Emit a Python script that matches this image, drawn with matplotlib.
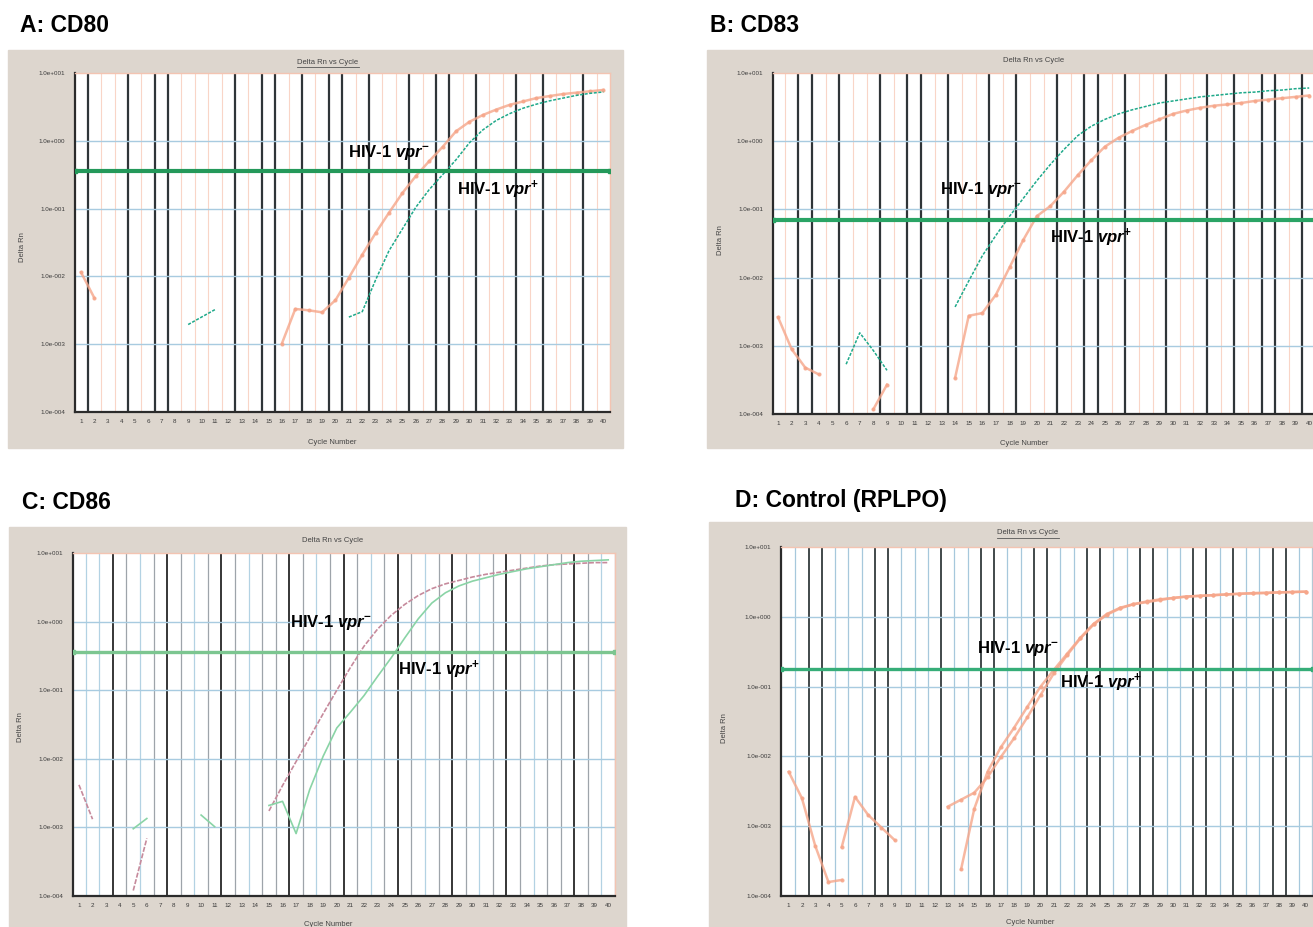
#
# Four qPCR amplification plots (Delta Rn vs Cycle), scanned-figure look
#
import matplotlib
matplotlib.use("Agg")
import matplotlib.pyplot as plt
from matplotlib.patches import Rectangle

plt.rcParams['font.family'] = ['Liberation Sans', 'DejaVu Sans']
plt.rcParams['mathtext.fontset'] = 'custom'
plt.rcParams['mathtext.rm'] = 'Liberation Sans:bold'
plt.rcParams['mathtext.it'] = 'Liberation Sans:bold:italic'

W, H = 1313, 927

cycle_ticks = list(range(1, 41))
cycle_labels = [str(c) for c in cycle_ticks]
ytick_vals = [1e-4, 1e-3, 1e-2, 1e-1, 1e0, 1e1]
ytick_labels = ['1.0e-004', '1.0e-003', '1.0e-002', '1.0e-001', '1.0e+000', '1.0e+001']

# ---- panel A: CD80 (values are log10 Delta Rn) ----
a_cyc_minus = list(range(16, 41))
a_log_minus = [-2.99, -2.48, -2.50, -2.53, -2.35, -2.02, -1.68, -1.36, -1.06, -0.77,
               -0.52, -0.30, -0.09, 0.14, 0.28, 0.38, 0.46, 0.53, 0.58, 0.63,
               0.66, 0.69, 0.71, 0.73, 0.75]
a_cyc_plus = list(range(21, 41))
a_log_plus = [-2.60, -2.52, -2.05, -1.62, -1.30, -0.98, -0.72, -0.50, -0.28, -0.03,
              0.16, 0.30, 0.40, 0.48, 0.54, 0.59, 0.63, 0.67, 0.70, 0.72]
a_frag_minus_cyc = [1, 2]
a_frag_minus_log = [-1.94, -2.32]
a_frag_plus_cyc = [9, 10, 11]
a_frag_plus_log = [-2.71, -2.60, -2.49]
a_threshold = 0.36
a_dark = [1.5, 4.5, 6.5, 7.5, 12.5, 14.5, 15.5, 17.5, 19.5, 20.5, 22.5, 25.5,
          27.5, 28.5, 30.5, 33.5, 35.5, 38.5]

# ---- panel B: CD83 ----
b_cyc_green = list(range(14, 41))
b_log_green = [-2.43, -2.05, -1.68, -1.38, -1.10, -0.84, -0.58, -0.34, -0.12, 0.08,
               0.22, 0.32, 0.40, 0.46, 0.51, 0.56, 0.59, 0.62, 0.65, 0.67,
               0.69, 0.71, 0.72, 0.74, 0.75, 0.77, 0.78]
b_cyc_orange = list(range(14, 41))
b_log_orange = [-3.47, -2.56, -2.52, -2.25, -1.85, -1.45, -1.10, -0.95, -0.74, -0.50,
                -0.28, -0.08, 0.05, 0.15, 0.24, 0.32, 0.40, 0.45, 0.49, 0.52,
                0.54, 0.56, 0.59, 0.61, 0.63, 0.65, 0.67]
b_frag1_cyc = [1, 2, 3, 4]
b_frag1_log = [-2.58, -3.05, -3.32, -3.42]
b_frag2_cyc = [6, 7, 8, 9]
b_frag2_log = [-3.27, -2.81, -3.07, -3.36]
b_frag3_cyc = [8, 9]
b_frag3_log = [-3.93, -3.57]
b_threshold = 0.069
b_dark = [2.5, 3.5, 5.5, 8.5, 10.5, 11.5, 13.5, 16.5, 18.5, 21.5, 23.5, 24.5,
          26.5, 29.5, 32.5, 34.5, 36.5, 37.5, 39.5]

# ---- panel C: CD86 ----
c_cyc_pink = list(range(15, 41))
c_log_pink = [-2.76, -2.39, -2.04, -1.69, -1.34, -1.00, -0.67, -0.36, -0.11, 0.09,
              0.25, 0.38, 0.48, 0.55, 0.60, 0.65, 0.69, 0.72, 0.75, 0.78,
              0.81, 0.83, 0.84, 0.85, 0.86, 0.86]
c_cyc_green = list(range(15, 41))
c_log_green = [-2.68, -2.62, -3.09, -2.45, -1.96, -1.55, -1.32, -1.08, -0.80, -0.53,
               -0.24, 0.04, 0.27, 0.42, 0.52, 0.59, 0.64, 0.69, 0.73, 0.77,
               0.80, 0.83, 0.86, 0.88, 0.89, 0.90]
c_frag1_cyc = [1, 2]
c_frag1_log = [-2.38, -2.88]
c_frag2_cyc = [5, 6]
c_frag2_log = [-3.02, -2.87]
c_frag3_cyc = [5, 6]
c_frag3_log = [-3.92, -3.16]
c_frag4_cyc = [10, 11]
c_frag4_log = [-2.82, -2.99]
c_threshold = 0.355
c_dark = [3.5, 7.5, 11.5, 16.5, 20.5, 24.5, 28.5, 32.5, 37.5]
c_blue = [1.5, 2.5, 5.5, 9.5, 13.5, 18.5, 22.5, 26.5, 30.5, 34.5, 39.5]

# ---- panel D: Control (RPLPO) ----
d_cyc_1 = list(range(13, 41))
d_log_1 = [-2.72, -2.62, -2.52, -2.30, -2.01, -1.74, -1.44, -1.12, -0.81, -0.55,
           -0.31, -0.11, 0.03, 0.12, 0.18, 0.21, 0.24, 0.27, 0.29, 0.30,
           0.31, 0.32, 0.33, 0.335, 0.34, 0.35, 0.355, 0.36]
d_cyc_2 = list(range(14, 41))
d_log_2 = [-3.62, -2.75, -2.22, -1.87, -1.59, -1.29, -1.00, -0.76, -0.53, -0.30,
           -0.10, 0.04, 0.13, 0.18, 0.22, 0.25, 0.27, 0.29, 0.30, 0.31,
           0.32, 0.33, 0.34, 0.345, 0.35, 0.355, 0.36]
d_frag1_cyc = [1, 2, 3, 4, 5]
d_frag1_log = [-2.22, -2.60, -3.28, -3.80, -3.77]
d_frag2_cyc = [5, 6, 7, 8, 9]
d_frag2_log = [-3.30, -2.58, -2.84, -3.02, -3.20]
d_threshold = 0.18
d_dark = [2.5, 3.5, 7.5, 8.5, 12.5, 15.5, 16.5, 19.5, 20.5, 23.5, 24.5, 27.5,
          28.5, 31.5, 32.5, 34.5, 37.5, 38.5]

ORANGE = dict(color='#f6a68a', lw=1.8, marker='o', ms=2.0, alpha=0.8)
GREEN = dict(color='#1fa98a', lw=1.1, ls=(0, (2, 1)))
PINK = dict(color='#c68a9c', lw=1.2, ls=(0, (3, 1)))
LGREEN = dict(color='#8ad4a6', lw=1.2)

GRAY_BG = '#ddd6ce'


def fig_rect(l, t, r, b):
    # pixel box (top-left origin) -> figure fraction
    return [l / W, 1 - b / H, (r - l) / W, (b - t) / H]


def pow10(vals):
    return [10 ** v for v in vals]


def draw_panel(fig, p):
    l, t, r, b = p['gray']
    fig.add_artist(Rectangle((l / W, 1 - b / H), (r - l) / W, (b - t) / H,
                             transform=fig.transFigure, color=GRAY_BG, zorder=0))
    fig.text(p['head'][0] / W, 1 - p['head'][1] / H, p['name'], fontsize=16.5,
             fontweight='bold', va='center', ha='left')

    ax = fig.add_axes(fig_rect(*p['plot']))
    ax.set_facecolor('white')
    ax.set_yscale('log')
    ax.set_xlim(*p['xlim'])
    ax.set_ylim(1e-4, 1e1)

    # cycle gridlines (the scan renders some dark, most faint)
    for k in range(1, 41):
        xg = k + 0.5
        if xg in p['dark']:
            ax.axvline(xg, color=p['dark_color'], lw=p['dark_lw'], zorder=1)
        elif xg in p.get('blue', []):
            ax.axvline(xg, color='#b3d2e3', lw=p['light_lw'], zorder=1)
        else:
            ax.axvline(xg, color=p['light_color'], lw=p['light_lw'], zorder=1)
    for yv in ytick_vals[1:-1]:
        ax.axhline(yv, color='#a8cbe0', lw=1.0, zorder=1)

    for cyc, logs, style in p['curves']:
        ax.plot(cyc, pow10(logs), zorder=3, **style)

    ax.plot(p['xlim'], [p['thr'], p['thr']], color=p['thr_color'], lw=p['thr_lw'],
            marker='s', ms=3, zorder=4)

    ax.set_xticks(cycle_ticks)
    ax.set_xticklabels(cycle_labels)
    ax.set_yticks(ytick_vals)
    ax.set_yticklabels(ytick_labels)
    ax.minorticks_off()
    ax.tick_params(axis='both', length=0, labelsize=4.5, colors='#3a3a3a')
    ax.tick_params(axis='x', pad=5)
    ax.tick_params(axis='y', pad=7)
    for side in ['left', 'bottom']:
        ax.spines[side].set_color('#2b2b2b')
        ax.spines[side].set_linewidth(1.6)
    for side in ['top', 'right']:
        ax.spines[side].set_color('#f3c4b2')
        ax.spines[side].set_linewidth(1.0)

    tx, ty = p['title_xy']
    fig.text(tx / W, 1 - ty / H, 'Delta Rn vs Cycle', fontsize=5.5, color='#444',
             ha='center', va='center')
    if p['underline']:
        fig.add_artist(plt.Line2D([(tx - 31) / W, (tx + 31) / W],
                                  [1 - (ty + 5) / H, 1 - (ty + 5) / H],
                                  transform=fig.transFigure, color='#555', lw=0.6))
    cx, cy = p['xlabel_xy']
    fig.text(cx / W, 1 - cy / H, 'Cycle Number', fontsize=5.5, color='#444',
             ha='center', va='center')
    yx, yy = p['ylabel_xy']
    fig.text(yx / W, 1 - yy / H, 'Delta Rn', fontsize=5.5, color='#444',
             ha='center', va='center', rotation=90)

    for (lx, ly), sign in zip(p['labels'], ['-', '+']):
        fig.text(lx / W, 1 - ly / H, r'HIV-1 $\mathit{vpr}^{\mathrm{' + sign + '}}$',
                 fontsize=12, fontweight='bold', ha='left', va='center', zorder=6)
    return ax


def main():
    fig = plt.figure(figsize=(W / 100, H / 100), dpi=100)

    panels = [
        dict(name='A: CD80', head=(20, 25), gray=(8, 50, 623, 448),
             plot=(75, 73, 610, 412), xlim=(0.55, 40.5), dark=a_dark,
             dark_color='#2f3538', dark_lw=1.6, light_color='#f9d5c7', light_lw=0.8,
             curves=[(a_cyc_minus, a_log_minus, ORANGE),
                     (a_frag_minus_cyc, a_frag_minus_log, ORANGE),
                     (a_cyc_plus, a_log_plus, GREEN),
                     (a_frag_plus_cyc, a_frag_plus_log, GREEN)],
             thr=a_threshold, thr_color='#24995a', thr_lw=3.0,
             title_xy=(328, 62), underline=True, xlabel_xy=(332, 442),
             ylabel_xy=(23, 247), labels=[(348, 153), (457, 190)]),
        dict(name='B: CD83', head=(710, 25), gray=(707, 50, 1320, 448),
             plot=(773, 73, 1316, 414), xlim=(0.63, 40.5), dark=b_dark,
             dark_color='#2f3538', dark_lw=1.6, light_color='#f9d5c7', light_lw=0.8,
             curves=[(b_cyc_orange, b_log_orange, ORANGE),
                     (b_frag1_cyc, b_frag1_log, ORANGE),
                     (b_frag3_cyc, b_frag3_log, ORANGE),
                     (b_cyc_green, b_log_green, GREEN),
                     (b_frag2_cyc, b_frag2_log, GREEN)],
             thr=b_threshold, thr_color='#2aa465', thr_lw=3.0,
             title_xy=(1034, 61), underline=False, xlabel_xy=(1024, 443),
             ylabel_xy=(720, 240), labels=[(940, 190), (1050, 238)]),
        dict(name='C: CD86', head=(22, 503), gray=(9, 527, 626, 935),
             plot=(73, 553, 615, 896), xlim=(0.56, 40.5), dark=c_dark, blue=c_blue,
             dark_color='#262626', dark_lw=1.3, light_color='#9ea4aa', light_lw=0.9,
             curves=[(c_cyc_pink, c_log_pink, PINK),
                     (c_frag1_cyc, c_frag1_log, PINK),
                     (c_frag3_cyc, c_frag3_log, PINK),
                     (c_cyc_green, c_log_green, LGREEN),
                     (c_frag2_cyc, c_frag2_log, LGREEN),
                     (c_frag4_cyc, c_frag4_log, LGREEN)],
             thr=c_threshold, thr_color='#7cc690', thr_lw=2.4,
             title_xy=(333, 540), underline=False, xlabel_xy=(328, 925),
             ylabel_xy=(20, 727), labels=[(290, 623), (398, 670)]),
        dict(name='D: Control (RPLPO)', head=(735, 500), gray=(709, 522, 1320, 935),
             plot=(781, 547, 1313, 896), xlim=(0.42, 40.55), dark=d_dark,
             dark_color='#333a3d', dark_lw=1.3, light_color='#a6c8dc', light_lw=0.9,
             curves=[(d_cyc_1, d_log_1, ORANGE),
                     (d_cyc_2, d_log_2, ORANGE),
                     (d_frag1_cyc, d_frag1_log, ORANGE),
                     (d_frag2_cyc, d_frag2_log, ORANGE)],
             thr=d_threshold, thr_color='#36ad78', thr_lw=2.4,
             title_xy=(1028, 533), underline=True, xlabel_xy=(1030, 922),
             ylabel_xy=(724, 728), labels=[(977, 648), (1060, 683)]),
    ]

    for p in panels:
        draw_panel(fig, p)

    fig.savefig('out.png', dpi=100)


if __name__ == "__main__":
    main()
